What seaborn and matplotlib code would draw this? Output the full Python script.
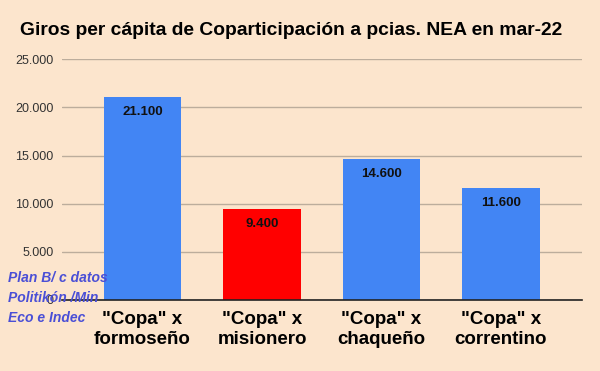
import matplotlib
matplotlib.use("Agg")
import matplotlib.pyplot as plt
import seaborn as sns
from matplotlib.ticker import FuncFormatter

# Data
categories = ['"Copa" x\nformoseño', '"Copa" x\nmisionero', '"Copa" x\nchaqueño', '"Copa" x\ncorrentino']
values = [21100, 9400, 14600, 11600]
bar_colors = ["#4285f4", "#ff0000", "#4285f4", "#4285f4"]
yticks = [0, 5000, 10000, 15000, 20000, 25000]

bg = "#fce5cd"


def miles(v):
    return f"{int(v):,}".replace(",", ".")


sns.set_style("white")
plt.rcParams['font.family'] = ['Liberation Sans', 'DejaVu Sans']

fig = plt.figure(figsize=(6, 3.71), dpi=100, facecolor=bg)
ax = fig.add_axes([0.1033, 0.1914, 0.8667, 0.6487])
ax.set_facecolor(bg)

sns.barplot(x=categories, y=values, hue=categories, palette=bar_colors,
            width=0.65, legend=False, saturation=1, linewidth=0, ax=ax)

# value labels inside the top of each bar
for cont, v in zip(ax.containers, values):
    ax.bar_label(cont, labels=[miles(v)], padding=-15, fontsize=9.5,
                 fontweight="bold", color="#111111")

ax.set_ylim(0, 25000)
ax.set_xlim(-0.674, 3.678)
ax.set_yticks(yticks)
ax.yaxis.set_major_formatter(FuncFormatter(lambda v, p: miles(v)))
ax.set_xticks(range(len(categories)), categories, fontsize=13.5,
              fontweight="bold", color="#000000", linespacing=1.2)
ax.grid(axis="y", color="#bcad9c", linewidth=1)
ax.set_axisbelow(True)
for s in ["left", "right", "top"]:
    ax.spines[s].set_visible(False)
ax.spines["bottom"].set_color("#222222")
ax.spines["bottom"].set_linewidth(1.2)
ax.tick_params(axis="y", length=0, labelsize=9, colors="#333333", pad=6)
ax.tick_params(axis="x", length=0, pad=8)
ax.set_xlabel("")
ax.set_ylabel("")

fig.text(0.033, 0.918, "Giros per cápita de Coparticipación a pcias. NEA en mar-22",
         fontsize=13.9, fontweight="bold", color="#000000", va="center", ha="left")

fig.text(0.013, 0.197, "Plan B/ c datos\nPolitikón /Min\nEco e Indec",
         fontsize=10, fontweight="bold", fontstyle="italic", color="#4a4fd6",
         va="center", ha="left", linespacing=1.55, zorder=5)

fig.savefig("out.png", dpi=100, facecolor=bg)
